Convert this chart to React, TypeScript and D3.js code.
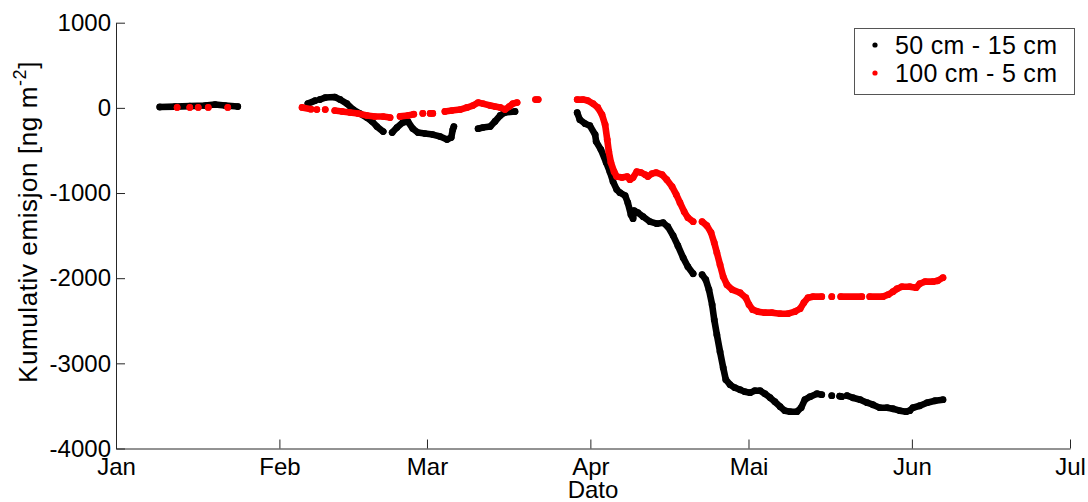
import { useEffect, useRef } from "react";
import * as d3 from "d3";

// day of year (0 = 1 Jan) and cumulative emission in ng m^-2, split where the record has gaps
type Pt = [number, number];

const black50: Pt[][] = [
  [[8.3, 10], [11.2, 15], [14.0, 20], [16.9, 27], [18.8, 39], [20.7, 27], [23.1, 15]],
  [[36.4, 50], [37.8, 85]],
  [[38.7, 98], [39.7, 121], [41.5, 127], [42.5, 98], [43.8, 50], [45.0, -20], [46.3, -67],
   [47.6, -114], [48.6, -161], [49.5, -220], [50.7, -278]],
  [[52.4, -290], [53.3, -231], [54.4, -173], [55.4, -161], [56.3, -243], [57.3, -290],
   [58.6, -302], [60.1, -314], [61.5, -337], [62.8, -372], [63.6, -349], [63.9, -255], [64.1, -220]],
  [[68.7, -245], [69.6, -231], [71.0, -220], [71.9, -160], [72.9, -90], [73.8, -55], [75.7, -43]],
  [[87.5, -56], [88.0, -139], [89.0, -186], [89.9, -208], [90.9, -314], [91.1, -396],
   [92.0, -490], [93.0, -643], [93.7, -749], [94.3, -866], [95.0, -960], [95.6, -996],
   [96.6, -1031], [97.1, -1113], [97.7, -1254], [98.1, -1301], [98.3, -1207], [99.0, -1231],
   [100.0, -1278], [101.3, -1336], [102.6, -1360], [103.8, -1348], [104.7, -1395], [105.7, -1500],
   [106.6, -1618], [107.6, -1759], [108.5, -1865], [109.5, -1947]],
  [[111.2, -1959], [111.9, -2018], [112.5, -2135], [113.1, -2311], [113.5, -2487], [114.0, -2663],
   [114.6, -2863], [115.2, -3051], [115.7, -3192], [116.5, -3251], [117.4, -3286], [118.4, -3310],
   [119.3, -3333], [120.3, -3345], [121.2, -3321], [122.2, -3321], [123.1, -3357], [124.1, -3404],
   [125.0, -3451], [126.0, -3509], [126.9, -3556], [127.9, -3568], [129.2, -3568], [130.0, -3521],
   [130.7, -3427], [131.7, -3392], [133.0, -3357], [133.9, -3368]],
  [[135.8, -3380]],
  [[137.3, -3385], [137.7, -3392]],
  [[138.7, -3380], [139.8, -3404], [141.2, -3427], [142.5, -3462], [143.6, -3486], [144.9, -3521],
   [146.3, -3521], [147.4, -3533], [148.7, -3556], [149.9, -3568], [150.6, -3556], [151.2, -3521],
   [152.5, -3498], [153.9, -3462], [155.4, -3439], [156.9, -3427]],
];

const red100: Pt[][] = [
  [[11.6, 5]], [[14.0, 5]], [[15.6, 5]], [[17.5, 5]], [[21.2, 5]],
  [[35.3, 5], [37.0, -15]],
  [[38.1, -20]], [[39.7, -20]],
  [[41.5, -32], [42.9, -43], [44.4, -55], [45.9, -67], [47.6, -90], [49.1, -102], [50.7, -102], [52.0, -114]],
  [[53.9, -100], [55.4, -90], [56.5, -75]],
  [[58.2, -65]], [[59.6, -65], [60.1, -65]],
  [[62.4, -43], [63.7, -32], [65.3, -20], [66.6, 4], [67.7, 27], [68.7, 62], [69.6, 50], [71.0, 27],
   [71.9, 15], [72.9, 4], [73.8, -20], [74.6, 15], [75.3, 50], [76.1, 62]],
  [[79.6, 97], [80.1, 97]],
  [[87.5, 97], [88.6, 97], [89.5, 86], [90.5, 50], [91.4, 4], [92.2, -79], [92.8, -197], [93.2, -372],
   [93.5, -514], [93.9, -643], [94.5, -749], [95.0, -807], [96.0, -819], [97.0, -807], [97.5, -843],
   [98.1, -819], [98.8, -749], [99.6, -760], [100.4, -784], [100.9, -807], [101.7, -772], [102.5, -760],
   [103.6, -784], [104.5, -843], [105.5, -925], [106.3, -1019], [107.0, -1113], [107.8, -1219],
   [108.5, -1289], [109.5, -1336]],
  [[111.2, -1336], [112.1, -1383], [112.9, -1465], [113.5, -1583], [114.0, -1700], [114.6, -1841],
   [115.2, -1982], [115.9, -2077], [116.9, -2135], [118.4, -2171], [119.5, -2230], [120.1, -2311],
   [120.8, -2370], [121.8, -2393], [123.1, -2405], [124.5, -2405], [126.0, -2417], [127.5, -2417],
   [128.8, -2393], [129.8, -2358], [130.5, -2288], [131.3, -2229], [132.2, -2217], [133.9, -2217]],
  [[135.8, -2217]],
  [[137.5, -2217], [141.5, -2217]],
  [[143.0, -2217], [145.5, -2217], [146.5, -2194], [147.4, -2159], [148.2, -2124], [149.1, -2100],
   [150.6, -2100], [151.8, -2112], [152.5, -2065], [153.5, -2041], [155.0, -2041], [155.9, -2030],
   [156.9, -1994]],
];

const monthLabels = ["Jan", "Feb", "Mar", "Apr", "Mai", "Jun", "Jul"];
const yTicks = [1000, 0, -1000, -2000, -3000, -4000];
const seriesNames = ["50 cm - 15 cm", "100 cm - 5 cm"];
const seriesColors = ["#000000", "#ff0000"];

const W = 1088;
const H = 502;
const FONT = "'Liberation Sans', Arial, Helvetica, sans-serif";

export default function App() {
  const svgRef = useRef<SVGSVGElement>(null);

  useEffect(() => {
    const svg = d3.select(svgRef.current);
    svg.selectAll("*").remove();

    svg.append("rect").attr("width", W).attr("height", H).attr("fill", "#ffffff");

    const t0 = Date.UTC(2013, 0, 1);
    const toDate = (d: number) => new Date(t0 + d * 86400000);

    const x = d3.scaleUtc()
      .domain([new Date(Date.UTC(2013, 0, 1)), new Date(Date.UTC(2013, 6, 1))])
      .range([116, 1070]);
    const y = d3.scaleLinear().domain([-4000, 1000]).range([448.5, 22.7]);

    const monthTicks = d3.utcMonth.range(new Date(Date.UTC(2013, 0, 1)), new Date(Date.UTC(2013, 6, 2)));

    // x axis
    const gx = svg.append("g")
      .attr("transform", `translate(0,${y(-4000)})`)
      .call(
        d3.axisBottom(x)
          .tickValues(monthTicks)
          .tickFormat((_, i) => monthLabels[i])
          .tickSizeInner(-9)
          .tickSizeOuter(0)
          .tickPadding(9)
      );

    // y axis
    const gy = svg.append("g")
      .attr("transform", `translate(${x.range()[0]},0)`)
      .call(
        d3.axisLeft(y)
          .tickValues(yTicks)
          .tickFormat(d3.format("d"))
          .tickSizeInner(-9)
          .tickSizeOuter(0)
          .tickPadding(5)
      );

    [gx, gy].forEach((g) => {
      g.attr("font-family", FONT).attr("font-size", 24);
      g.selectAll("path, line").attr("stroke", "#262626").attr("stroke-width", 1);
      g.selectAll("text").attr("fill", "#000");
    });
    // plain hyphen minus like the original
    gy.selectAll("text").text((d) => String(d));

    // axis titles
    svg.append("text")
      .attr("x", (x.range()[0] + x.range()[1]) / 2)
      .attr("y", 498)
      .attr("text-anchor", "middle")
      .attr("font-family", FONT)
      .attr("font-size", 24)
      .text("Dato");

    const yl = svg.append("text")
      .attr("transform", `translate(37,222) rotate(-90)`)
      .attr("text-anchor", "middle")
      .attr("font-family", FONT)
      .attr("font-size", 26)
      .attr("letter-spacing", 0.6);
    yl.append("tspan").text("Kumulativ emisjon [ng m");
    yl.append("tspan").attr("font-size", 18).attr("dy", -11).text("-2");
    yl.append("tspan").attr("dy", 11).text("]");

    // series
    const line = d3.line<Pt>()
      .x((p) => x(toDate(p[0])))
      .y((p) => y(p[1]));

    [black50, red100].forEach((segs, si) => {
      const g = svg.append("g");
      segs.forEach((seg) => {
        g.append("path")
          .attr("d", line(seg))
          .attr("fill", "none")
          .attr("stroke", seriesColors[si])
          .attr("stroke-width", 6.6)
          .attr("stroke-linecap", "round")
          .attr("stroke-linejoin", "round");
        g.selectAll(null)
          .data(seg)
          .enter()
          .append("circle")
          .attr("cx", (p) => x(toDate(p[0])))
          .attr("cy", (p) => y(p[1]))
          .attr("r", 3.4)
          .attr("fill", seriesColors[si]);
      });
    });

    // legend
    const lg = svg.append("g");
    lg.append("rect")
      .attr("x", 854.5)
      .attr("y", 28.5)
      .attr("width", 220)
      .attr("height", 66)
      .attr("fill", "#ffffff")
      .attr("stroke", "#555555")
      .attr("stroke-width", 1);
    seriesNames.forEach((name, i) => {
      const cy = 45 + i * 28;
      lg.append("circle").attr("cx", 875).attr("cy", cy).attr("r", 2.6).attr("fill", seriesColors[i]);
      lg.append("text")
        .attr("x", 895)
        .attr("y", cy)
        .attr("dy", "0.35em")
        .attr("font-family", FONT)
        .attr("font-size", 25)
        .attr("letter-spacing", 0.3)
        .text(name);
    });
  }, []);

  return (
    <svg
      ref={svgRef}
      width={W}
      height={H}
      style={{ position: "absolute", left: 0, top: 0, display: "block" }}
    />
  );
}
